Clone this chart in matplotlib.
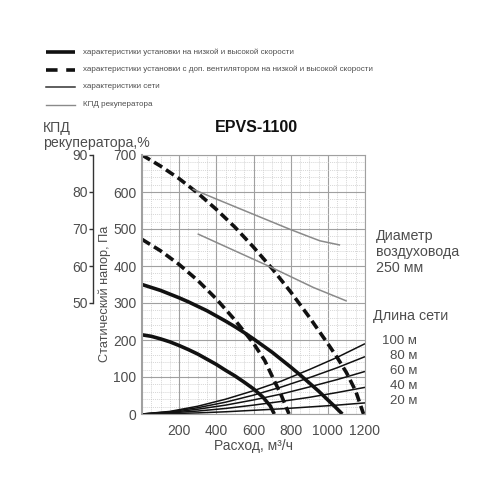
#!/usr/bin/env python3
import numpy as np
import matplotlib
matplotlib.use("Agg")
import matplotlib.pyplot as plt
from matplotlib.lines import Line2D
from matplotlib.ticker import MultipleLocator

plt.rcParams['font.family'] = ['Liberation Sans', 'DejaVu Sans']

# fan curves, static pressure (Pa) vs air flow (m3/h)
hi_x = [0, 50, 100, 150, 200, 250, 300, 350, 400, 450, 500, 550, 600, 650, 700, 750, 800, 850, 900, 950, 1000, 1040, 1078]
hi_p = [350, 342, 334, 324, 314, 303, 291, 279, 265, 251, 236, 220, 203, 185, 167, 147, 127, 106, 84, 62, 38, 19, 0]
lo_x = [0, 50, 100, 150, 200, 250, 300, 350, 400, 450, 500, 550, 600, 650, 690, 712]
lo_p = [214, 210, 203, 195, 185, 174, 162, 148, 134, 118, 103, 86, 68, 46, 22, 0]

# fan curves with extra fan (dashed)
dhi_x = [0, 100, 200, 300, 400, 500, 600, 700, 800, 900, 1000, 1050, 1100, 1150, 1192]
dhi_p = [700, 670, 636, 597, 553, 505, 451, 393, 330, 262, 190, 153, 112, 62, 0]
dlo_x = [0, 100, 200, 300, 400, 500, 600, 660, 707, 750, 791]
dlo_p = [472, 441, 404, 361, 311, 254, 191, 145, 95, 50, 0]

# network characteristics
net_x = [0, 150, 300, 450, 600, 750, 900, 1050, 1200]
net_lengths = ["100 м", "80 м", "60 м", "40 м", "20 м"]
net_100 = [0, 7, 21, 40, 63, 89, 120, 153, 190]
net_80 = [0, 6, 17, 32, 51, 73, 98, 125, 155]
net_60 = [0, 4, 13, 24, 38, 54, 73, 93, 115]
net_40 = [0, 3, 8, 15, 24, 34, 45, 58, 72]
net_20 = [0, 1, 3, 6, 10, 14, 19, 24, 30]

# recuperator efficiency, %
eff1_x = [276, 400, 545, 700, 797, 900, 958, 1062]
eff1_v = [80.7, 78.1, 75.1, 71.9, 69.9, 67.9, 66.8, 65.7]
eff2_x = [303, 491, 689, 922, 1098]
eff2_v = [68.6, 64.3, 59.8, 54.2, 50.6]

legend_labels = [
	"характеристики установки на низкой и высокой скорости",
	"характеристики установки с доп. вентилятором на низкой и высокой скорости",
	"характеристики сети",
	"КПД рекуператора",
]

TXT = "#4d4d4d"


def main():
	fig = plt.figure(figsize=(5, 5), dpi=100)
	ax = fig.add_axes([0.284, 0.172, 0.446, 0.518])

	ax.set_xlim(0, 1200)
	ax.set_ylim(0, 700)
	ax.xaxis.set_major_locator(MultipleLocator(200))
	ax.yaxis.set_major_locator(MultipleLocator(100))
	ax.xaxis.set_minor_locator(MultipleLocator(50))
	ax.yaxis.set_minor_locator(MultipleLocator(20))
	ax.grid(which='major', color='#a0a0a0', lw=0.8)
	ax.grid(which='minor', color='#c8c8c8', lw=0.5, ls=(0, (1.5, 1.5)))
	ax.set_axisbelow(True)
	for s in ax.spines.values():
		s.set_color('#a0a0a0')
		s.set_linewidth(0.8)
	ax.spines['left'].set_linewidth(1.5)

	ax.set_xticks([200, 400, 600, 800, 1000, 1200])
	ax.tick_params(which='both', length=0)
	ax.tick_params(axis='y', pad=4, labelsize=10, labelcolor=TXT)
	ax.tick_params(axis='x', pad=7, labelsize=10, labelcolor=TXT)

	for ys in [net_100, net_80, net_60, net_40, net_20]:
		ax.plot(net_x, ys, color='#111111', lw=1.1, solid_capstyle='butt')

	ax.plot(lo_x, lo_p, color='#111111', lw=2.6, solid_capstyle='butt')
	ax.plot(hi_x, hi_p, color='#111111', lw=2.6, solid_capstyle='butt')
	dash = (0, (2.6, 1.3))
	ax.plot(dlo_x, dlo_p, color='#111111', lw=2.6, ls=dash, dash_capstyle='butt')
	ax.plot(dhi_x, dhi_p, color='#111111', lw=2.6, ls=dash, dash_capstyle='butt')

	ax.set_xlabel("Расход, м³/ч", fontsize=10, color=TXT, labelpad=1)

	# efficiency axis on the far left: 50..90 % shares the height with 300..700 Pa
	ax2 = ax.twinx()
	ax2.set_ylim(20, 90)
	ax2.yaxis.tick_left()
	ax2.spines['left'].set_visible(True)
	ax2.spines['left'].set_position(('outward', 35))
	ax2.spines['left'].set_bounds(50, 90)
	ax2.spines['left'].set_color('#333333')
	ax2.spines['left'].set_linewidth(1.0)
	for k in ['right', 'top', 'bottom']:
		ax2.spines[k].set_visible(False)
	ax2.set_yticks([50, 60, 70, 80, 90])
	ax2.tick_params(axis='y', length=3, width=1, pad=1, labelsize=10, labelcolor=TXT, color='#333333')
	ax2.plot(eff1_x, eff1_v, color='#8a8a8a', lw=1.1)
	ax2.plot(eff2_x, eff2_v, color='#8a8a8a', lw=1.1)

	fig.text(0.21, 1 - 294 / 500, "Статический напор, Па", rotation=90, ha='center', va='center',
		fontsize=9.2, color=TXT)
	fig.text(0.086, 1 - 128 / 500, "КПД", ha='left', va='center', fontsize=10.2, color=TXT)
	fig.text(0.086, 1 - 143 / 500, "рекуператора,%", ha='left', va='center', fontsize=10.2, color=TXT)
	fig.text(0.512, 1 - 127 / 500, "EPVS-1100", ha='center', va='center', fontsize=11.5,
		fontweight='bold', color='#111111')

	fig.text(0.752, 1 - 236 / 500, "Диаметр", ha='left', va='center', fontsize=10.3, color=TXT)
	fig.text(0.752, 1 - 252 / 500, "воздуховода", ha='left', va='center', fontsize=10.3, color=TXT)
	fig.text(0.752, 1 - 268 / 500, "250 мм", ha='left', va='center', fontsize=10.3, color=TXT)
	fig.text(0.746, 1 - 316 / 500, "Длина сети", ha='left', va='center', fontsize=10.3, color=TXT)
	for i, lab in enumerate(net_lengths):
		fig.text(0.834, 1 - (341 + 15 * i) / 500, lab, ha='right', va='center', fontsize=9.5, color=TXT)

	# legend block at the top
	styles = [
		dict(color='#111111', lw=2.6, solid_capstyle='butt'),
		dict(color='#111111', lw=2.6, ls=(0, (3.2, 2.4)), dash_capstyle='butt'),
		dict(color='#333333', lw=1.1),
		dict(color='#8a8a8a', lw=1.0),
	]
	for i, (lab, st) in enumerate(zip(legend_labels, styles)):
		y = 1 - (52 + 17.5 * i) / 500
		fig.add_artist(Line2D([0.092, 0.150], [y, y], transform=fig.transFigure, **st))
		fig.text(0.166, y, lab, ha='left', va='center', fontsize=5.75, color=TXT)

	fig.savefig("out.png", dpi=100)


if __name__ == "__main__":
	main()
